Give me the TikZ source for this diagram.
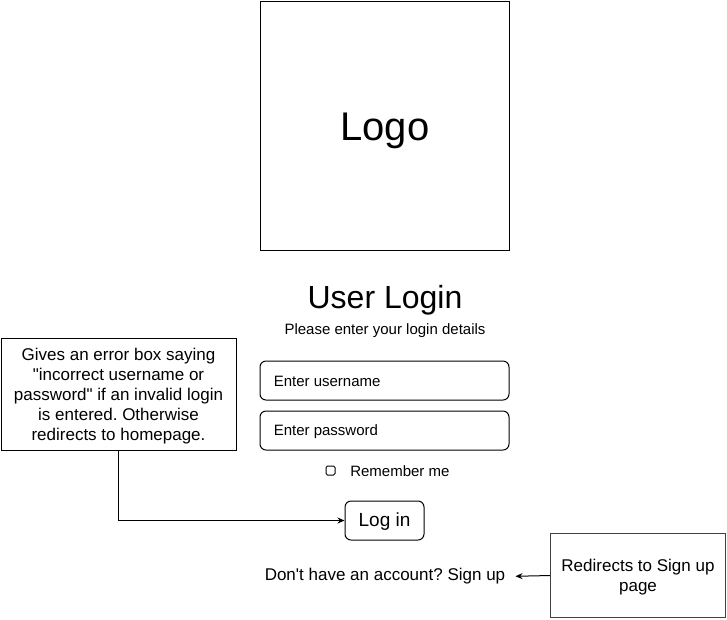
\documentclass[tikz,border=0pt]{standalone}
\usepackage{fontspec}
\setmainfont{Liberation Sans}
\usetikzlibrary{arrows.meta}
\frenchspacing
\begin{document}
\def\u{0.75pt}
\begin{tikzpicture}[x=0.75pt,y=-0.75pt,
  frame/.style={draw=black,line width=1*\u,inner sep=0pt},
  field/.style={frame,rounded corners=6*\u,minimum width=249*\u,minimum height=39*\u},
  notetext/.style={align=center,inner sep=0pt,font=\fontsize{12.75}{15}\selectfont},
  small/.style={font=\fontsize{11.25}{13.5}\selectfont},
  arr/.style={line width=1*\u,-{Stealth[length=7*\u,width=6*\u]}}]
\useasboundingbox (0,0) rectangle (727,619);
\fill[white] (0,0) rectangle (727,619);

% logo placeholder and headings
\node[frame,minimum width=249*\u,minimum height=249*\u] (logo) at (384.5,125.5) {};
\node[anchor=base,inner sep=0pt,font=\fontsize{30}{36}\selectfont] (logotext) at (385,140.5) {Logo};
\node[anchor=base,inner sep=0pt,font=\fontsize{24}{29}\selectfont] (title) at (385,308.5) {User Login};
\node[small,anchor=base,inner sep=0pt] (subtitle) at (385,334.5) {Please enter your login details};

% input fields
\node[field] (user) at (384.5,380.5) {};
\node[small,anchor=west,inner sep=0pt] (usertext) at ([xshift=14*\u,yshift=-1*\u]user.west) {Enter username};
\node[field] (pass) at (384.5,430.5) {};
\node[small,anchor=west,inner sep=0pt] (passtext) at ([xshift=14*\u,yshift=-1*\u]pass.west) {Enter password};

% remember-me checkbox
\node[frame,rounded corners=1.5*\u,minimum size=9*\u] (check) at (330.5,470.5) {};
\node[small,anchor=west,inner sep=0pt] (remember) at (350,471.5) {Remember me};

% login button and sign-up link
\node[frame,rounded corners=6*\u,minimum width=79*\u,minimum height=39*\u] (login) at (384.5,520.5) {};
\node[inner sep=0pt,font=\fontsize{14.25}{17}\selectfont] (logintext) at (384.5,522) {Log in};
\node[font=\fontsize{12.75}{15}\selectfont,inner sep=0pt] (signup) at (385,576.5)
  {Don\textquotesingle t have an account? Sign up};

% annotations
\node[frame,minimum width=235*\u,minimum height=112*\u] (note1) at (118.5,394) {};
\node[notetext] (note1text) at (118.5,396)
  {Gives an error box saying\\\textquotedbl incorrect username or\\password\textquotedbl{} if an invalid login\\is entered. Otherwise\\redirects to homepage.};
\node[frame,draw=black!75,minimum width=175*\u,minimum height=84*\u] (note2) at (638,575.5) {};
\node[notetext] (note2text) at (638,577.5) {Redirects to Sign up\\page};

\draw[arr] (note1.south) |- (login.west);
\draw[arr,shorten >=10*\u] (note2.west) -- (signup.east);
\end{tikzpicture}
\end{document}
